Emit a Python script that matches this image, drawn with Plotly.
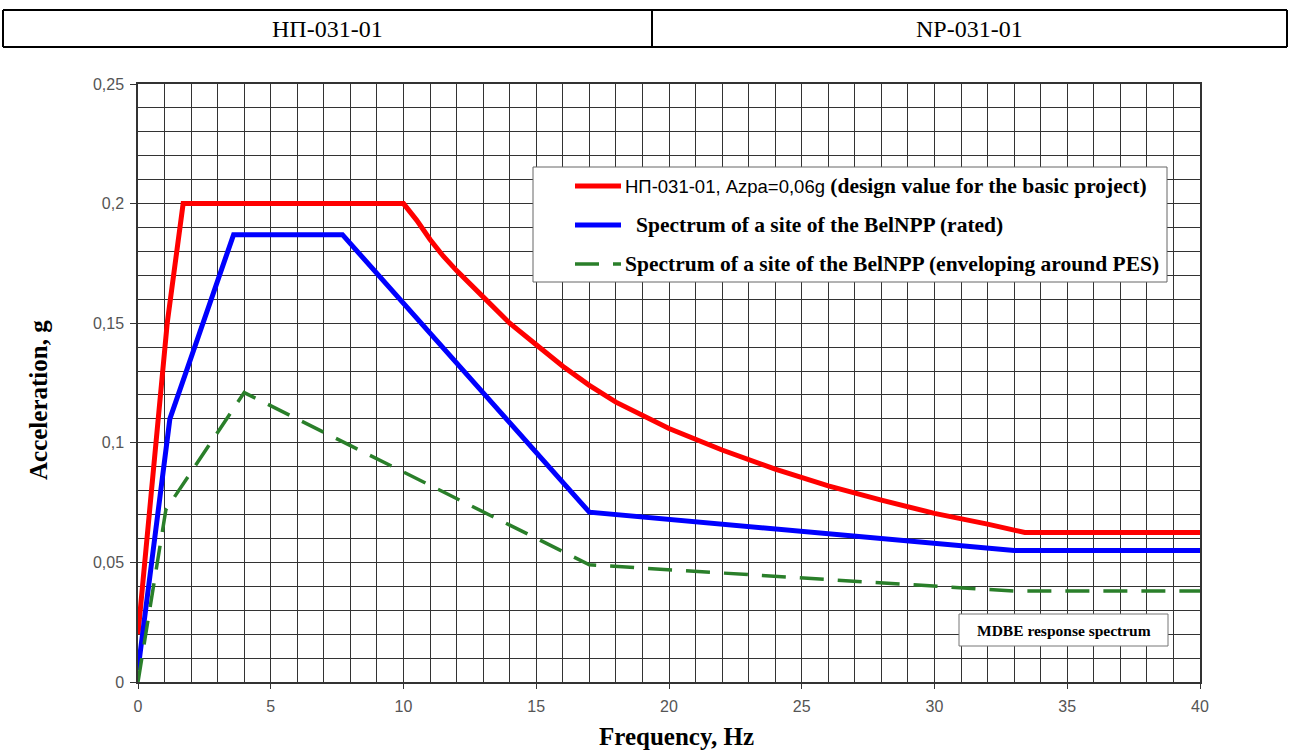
import plotly.graph_objects as go

# Response spectra (frequency in Hz, acceleration in g)
freq_np = [0, 0.25, 0.7, 1.1, 1.7, 10, 10.5, 11, 11.5, 12, 13, 14, 15, 16, 17, 18, 20, 22, 24, 26, 28, 30, 32,
           33.4, 40]
acc_np = [0.02, 0.05, 0.1, 0.15, 0.2, 0.2, 0.193, 0.185, 0.178, 0.172, 0.161, 0.15, 0.141, 0.132, 0.124, 0.117,
          0.106, 0.097, 0.089, 0.082, 0.076, 0.0705, 0.066, 0.0625, 0.0625]

freq_rated = [0, 1.2, 3.6, 7.7, 17, 33, 40]
acc_rated = [0.005, 0.11, 0.187, 0.187, 0.071, 0.055, 0.055]

freq_env = [0, 1.05, 4, 17, 33, 40]
acc_env = [0, 0.072, 0.121, 0.049, 0.038, 0.038]

series_names = [
    "НП-031-01, Azpa=0,06g (design value for the basic project)",
    "Spectrum of a site of the BelNPP (rated)",
    "Spectrum of a site of the BelNPP (enveloping around PES)",
]
header_cells = ["НП-031-01", "NP-031-01"]
x_title = "Frequency, Hz"
y_title = "Acceleration, g"
box_note = "MDBE response spectrum"

# Page geometry (pixels)
W, H = 1291, 751
L, R, T, B = 138, 1200, 84, 682


def px(x):
    return (x - L) / (R - L)


def py(y):
    return (B - y) / (B - T)


RED = "#ff0000"
BLUE = "#0000ff"
GREEN = "#2a7f2a"
GRID = "#333333"
SERIF = "Liberation Serif, Times New Roman, serif"
SANS = "Liberation Sans, Arial, sans-serif"
GREEN_DASH = "24px,14px"

fig = go.Figure()
fig.add_trace(go.Scatter(x=freq_np, y=acc_np, mode="lines", name=series_names[0],
                         line=dict(color=RED, width=5)))
fig.add_trace(go.Scatter(x=freq_rated, y=acc_rated, mode="lines", name=series_names[1],
                         line=dict(color=BLUE, width=5)))
fig.add_trace(go.Scatter(x=freq_env, y=acc_env, mode="lines", name=series_names[2],
                         line=dict(color=GREEN, width=3.5, dash=GREEN_DASH)))

axis_common = dict(
    showgrid=True, gridcolor=GRID, gridwidth=1.2,
    showline=True, mirror=True, linecolor=GRID, linewidth=1.5,
    zeroline=False, ticks="outside", tickcolor=GRID, tickwidth=1,
    tickfont=dict(family=SANS, size=16, color="#555555"),
)

fig.update_xaxes(range=[0, 40], dtick=5, tick0=0, ticklen=5, ticklabelstandoff=4,
                 minor=dict(dtick=1, showgrid=True, gridcolor=GRID, gridwidth=1.2, ticks=""),
                 **axis_common)
fig.update_yaxes(range=[0, 0.25], dtick=0.05, tick0=0, ticklen=6, ticklabelstandoff=3,
                 minor=dict(dtick=0.01, showgrid=True, gridcolor=GRID, gridwidth=1.2, ticks=""),
                 **axis_common)

shapes = []
annotations = []

# Header table above the chart
tbl_top, tbl_bot, tbl_l, tbl_r, tbl_mid = 10, 47, 3, 1287, 652
for (x0, y0, x1, y1) in [(tbl_l, tbl_top, tbl_r, tbl_top), (tbl_l, tbl_bot, tbl_r, tbl_bot),
                         (tbl_l, tbl_top, tbl_l, tbl_bot), (tbl_r, tbl_top, tbl_r, tbl_bot),
                         (tbl_mid, tbl_top, tbl_mid, tbl_bot)]:
    shapes.append(dict(type="line", xref="paper", yref="paper",
                       x0=px(x0), y0=py(y0), x1=px(x1), y1=py(y1),
                       line=dict(color="black", width=2)))
for cx, txt in zip([(tbl_l + tbl_mid) / 2, (tbl_mid + tbl_r) / 2], header_cells):
    annotations.append(dict(xref="paper", yref="paper", x=px(cx), y=py(29), text=txt,
                            showarrow=False, xanchor="center", yanchor="middle",
                            font=dict(family=SERIF, size=24, color="black")))

# Legend box drawn by hand (mixed fonts in the first entry)
shapes.append(dict(type="rect", xref="paper", yref="paper", layer="above",
                   x0=px(533), y0=py(282), x1=px(1167), y1=py(167),
                   fillcolor="white", line=dict(color="#666666", width=1)))
rows = [186, 225, 264]
samples = [(RED, 5, "solid"), (BLUE, 5, "solid"), (GREEN, 3.5, GREEN_DASH)]
for yy, (col, wd, dsh) in zip(rows, samples):
    shapes.append(dict(type="line", xref="paper", yref="paper", layer="above",
                       x0=px(575), y0=py(yy), x1=px(621), y1=py(yy),
                       line=dict(color=col, width=wd, dash=dsh)))

head, tail = series_names[0].split(" (", 1)
legend_texts = [
    (623, "<span style='font-family:Liberation Sans, Arial; font-size:18.5px; font-weight:normal'>"
          + head + "</span> <b>(" + tail + "</b>"),
    (634, "<b>" + series_names[1] + "</b>"),
    (623, "<b>" + series_names[2] + "</b>"),
]
for yy, (xx, txt) in zip(rows, legend_texts):
    annotations.append(dict(xref="paper", yref="paper", x=px(xx), y=py(yy), text=txt,
                            showarrow=False, xanchor="left", yanchor="middle",
                            font=dict(family=SERIF, size=21.5, color="black")))

# Caption box in the lower right corner of the plot
shapes.append(dict(type="rect", xref="paper", yref="paper", layer="above",
                   x0=px(959), y0=py(646), x1=px(1168), y1=py(614),
                   fillcolor="white", line=dict(color="#777777", width=1)))
annotations.append(dict(xref="paper", yref="paper", x=px(1063.5), y=py(630), text="<b>" + box_note + "</b>",
                        showarrow=False, xanchor="center", yanchor="middle",
                        font=dict(family=SERIF, size=15.5, color="black")))

# Axis titles
annotations.append(dict(xref="paper", yref="paper", x=px(676), y=py(736),
                        text="<b>" + x_title + "</b>", showarrow=False,
                        xanchor="center", yanchor="middle",
                        font=dict(family=SERIF, size=25, color="black")))
annotations.append(dict(xref="paper", yref="paper", x=px(38), y=py(400),
                        text="<b>" + y_title + "</b>", showarrow=False, textangle=-90,
                        xanchor="center", yanchor="middle",
                        font=dict(family=SERIF, size=25, color="black")))

fig.update_layout(
    width=W, height=H, autosize=False,
    margin=dict(l=L, r=W - R, t=T, b=H - B, pad=0),
    paper_bgcolor="white", plot_bgcolor="white",
    separators=", ",
    showlegend=False,
    shapes=shapes,
    annotations=annotations,
)

fig.write_html("out.html")
